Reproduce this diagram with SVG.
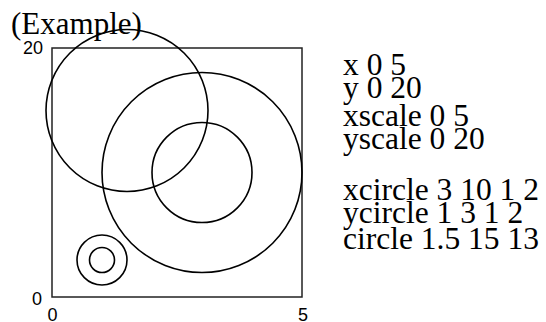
<svg xmlns="http://www.w3.org/2000/svg" width="546" height="322" viewBox="0 0 546 322">
<style>
.serif{font-family:"Liberation Serif","Times New Roman",serif;fill:#000}
.sans{font-family:"Liberation Sans",Arial,sans-serif;font-size:18px;fill:#000}
.c{fill:none;stroke:#000;stroke-width:1.6}
.frame{fill:none;stroke:#222;stroke-width:1.5}
</style>
<rect width="546" height="322" fill="#fff"/>
<text class="serif" x="11" y="34" font-size="31">(Example)</text>
<g id="frame">
<rect class="frame" x="52" y="48" width="250" height="249"/>
<text class="sans" x="43" y="54" text-anchor="end">20</text>
<text class="sans" x="42" y="305" text-anchor="end">0</text>
<text class="sans" x="52.5" y="321" text-anchor="middle">0</text>
<text class="sans" x="303" y="321" text-anchor="middle">5</text>
</g>
<g id="circles">
<circle class="c" cx="127" cy="110.5" r="81"/>
<circle class="c" cx="202" cy="172.5" r="50"/>
<circle class="c" cx="202" cy="172.5" r="100"/>
<circle class="c" cx="102" cy="260" r="12.5"/>
<circle class="c" cx="102" cy="260" r="25"/>
</g>
<g id="code" class="serif" font-size="31.5">
<text x="343" y="75">x 0 5</text>
<text x="343" y="98">y 0 20</text>
<text x="343" y="126">xscale 0 5</text>
<text x="343" y="149">yscale 0 20</text>
<text x="343" y="200">xcircle 3 10 1 2</text>
<text x="343" y="223">ycircle 1 3 1 2</text>
<text x="343" y="249">circle 1.5 15 13</text>
</g>
</svg>
